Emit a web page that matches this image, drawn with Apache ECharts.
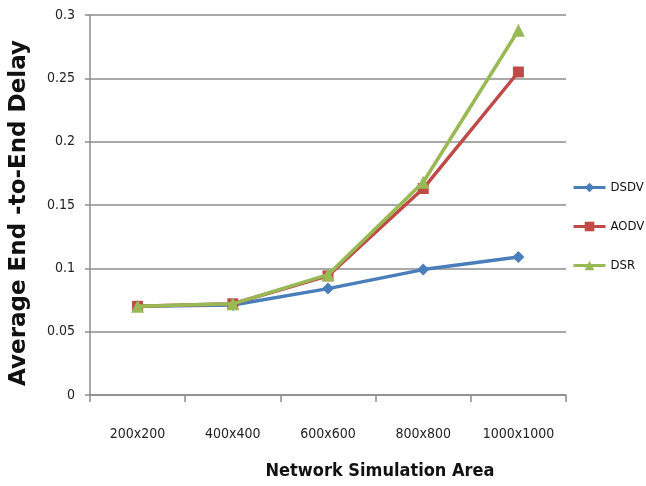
<!DOCTYPE html>
<html><head><meta charset="utf-8">
<script src="https://cdn.jsdelivr.net/npm/echarts@6/dist/echarts.min.js"></script>
<style>html,body{margin:0;padding:0;background:#fff}#c{width:646px;height:486px}</style>
</head><body><div id="c"></div>
<script>
var categories = ['200x200', '400x400', '600x600', '800x800', '1000x1000'];
var dsdv = [0.070, 0.071, 0.084, 0.099, 0.109];
var aodv = [0.070, 0.072, 0.094, 0.163, 0.255];
var dsr  = [0.070, 0.072, 0.095, 0.168, 0.288];
var seriesNames = ['DSDV', 'AODV', 'DSR'];

var font = "'Liberation Sans Narrow', 'Arial Narrow', 'DejaVu Sans Condensed', sans-serif";
var chart = echarts.init(document.getElementById('c'), null, {renderer: 'canvas'});
chart.setOption({
  animation: false,
  backgroundColor: '#fff',
  grid: {left: 90, right: 80, top: 15, bottom: 91, containLabel: false, outerBoundsMode: 'none'},
  legend: {
    orient: 'vertical', left: 572, top: 181, itemGap: 26, padding: 0,
    itemWidth: 32, itemHeight: 12,
    lineStyle: {width: 3},
    textStyle: {fontFamily: font, fontSize: 13, color: '#111'},
    data: seriesNames
  },
  xAxis: {
    type: 'category', data: categories, boundaryGap: true,
    axisLine: {lineStyle: {color: '#8c8c8c', width: 1.5}},
    axisTick: {show: true, length: 7, lineStyle: {color: '#8c8c8c', width: 1.5}},
    axisLabel: {fontFamily: font, fontSize: 14, color: '#222', margin: 32},
    name: 'Network Simulation Area', nameLocation: 'middle', nameGap: 67,
    nameTextStyle: {fontFamily: font, fontSize: 18, fontWeight: 'bold', color: '#111', padding: [0, 0, 0, 104]}
  },
  yAxis: {
    type: 'value', min: 0, max: 0.3, interval: 0.05,
    axisLine: {show: true, lineStyle: {color: '#8c8c8c', width: 1.5}},
    axisTick: {show: true, length: 5, lineStyle: {color: '#8c8c8c', width: 1.5}},
    splitLine: {lineStyle: {color: '#8c8c8c', width: 1.5}},
    axisLabel: {fontFamily: font, fontSize: 14, color: '#222', margin: 15,
      formatter: function (v) { return String(parseFloat(v.toFixed(2))); }},
    name: 'Average End -to-End Delay', nameLocation: 'middle', nameGap: 59,
    nameRotate: 90,
    nameTextStyle: {fontFamily: "'DejaVu Sans', sans-serif", fontSize: 23, fontWeight: 'bold', color: '#111', padding: [0, 16, 0, 0]}
  },
  series: [
    {name: 'DSDV', type: 'line', data: dsdv, symbol: 'diamond', symbolSize: 12,
     lineStyle: {color: '#4a7ebb', width: 3.5}, itemStyle: {color: '#4a7ebb'}, z: 2},
    {name: 'AODV', type: 'line', data: aodv, symbol: 'rect', symbolSize: 11,
     lineStyle: {color: '#be4b48', width: 3.5}, itemStyle: {color: '#be4b48'}, z: 3},
    {name: 'DSR', type: 'line', data: dsr, symbol: 'triangle', symbolSize: 13,
     lineStyle: {color: '#98b954', width: 3.5}, itemStyle: {color: '#98b954'}, z: 4}
  ]
});
</script>
</body></html>
